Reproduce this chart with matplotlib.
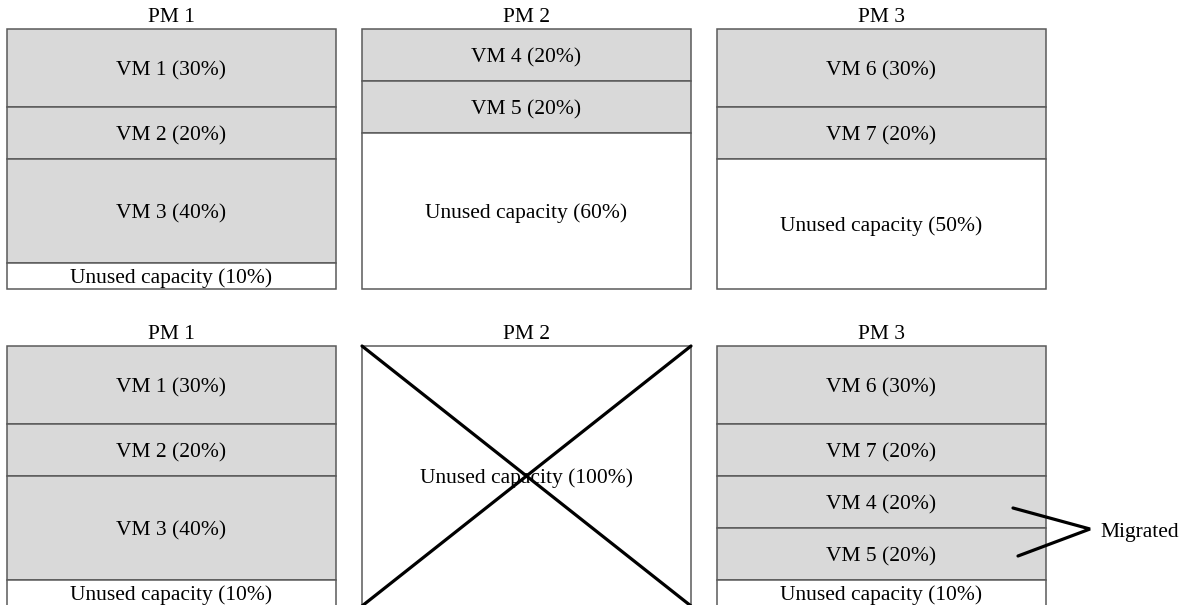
import matplotlib
matplotlib.use("Agg")
import matplotlib.pyplot as plt

plt.rcParams['font.family'] = ['Liberation Serif', 'DejaVu Serif']

# ---- data ----
pm_titles = ["PM 1", "PM 2", "PM 3"]

before_labels = [
    ["VM 1 (30%)", "VM 2 (20%)", "VM 3 (40%)", "Unused capacity (10%)"],
    ["VM 4 (20%)", "VM 5 (20%)", "Unused capacity (60%)"],
    ["VM 6 (30%)", "VM 7 (20%)", "Unused capacity (50%)"],
]
before_values = [
    [30, 20, 40, 10],
    [20, 20, 60],
    [30, 20, 50],
]
before_used = [
    [True, True, True, False],
    [True, True, False],
    [True, True, False],
]

after_labels = [
    ["VM 1 (30%)", "VM 2 (20%)", "VM 3 (40%)", "Unused capacity (10%)"],
    ["Unused capacity (100%)"],
    ["VM 6 (30%)", "VM 7 (20%)", "VM 4 (20%)", "VM 5 (20%)", "Unused capacity (10%)"],
]
after_values = [
    [30, 20, 40, 10],
    [100],
    [30, 20, 20, 20, 10],
]
after_used = [
    [True, True, True, False],
    [False],
    [True, True, True, True, False],
]
removed_pm = 1          # index of the PM switched off after consolidation
migrated_text = "Migrated"

# ---- layout (pixel-like coordinates) ----
W, H = 1188, 605
fig = plt.figure(figsize=(W / 100, H / 100), dpi=100)
ax = fig.add_axes([0, 0, 1, 1])
ax.set_xlim(0, W)
ax.set_ylim(H, 0)
ax.axis("off")

box_left = [7, 362, 717]
box_w = 329
row_top = [29, 346]
scale = 2.6          # pixels per percent
fill_used = "#d9d9d9"
edge = "#5a5a5a"
fs = 15.5
dy = 2.5             # optical vertical centring offset for text


def draw_row(top, labels, values, used, cross=None):
    for i in range(3):
        cx = box_left[i] + box_w / 2
        ax.text(cx, top - 14 + dy, pm_titles[i], ha="center", va="center", fontsize=fs)
        y = top
        for lab, v, u in zip(labels[i], values[i], used[i]):
            h = v * scale
            ax.bar(cx, h, bottom=y, width=box_w,
                   color=fill_used if u else "white",
                   edgecolor=edge, linewidth=1.1)
            ax.text(cx, y + h / 2 + dy, lab, ha="center", va="center", fontsize=fs)
            y += h
        if cross == i:
            x0, x1 = box_left[i], box_left[i] + box_w
            ax.plot([x0, x1], [top, y], color="black", lw=2.3, solid_capstyle="round")
            ax.plot([x1, x0], [top, y], color="black", lw=2.3, solid_capstyle="round")


draw_row(row_top[0], before_labels, before_values, before_used)
draw_row(row_top[1], after_labels, after_values, after_used, cross=removed_pm)

# migrated bracket
ax.plot([1013, 1090, 1018], [508, 529, 556], color="black", lw=2.3,
        solid_joinstyle="miter", solid_capstyle="round", clip_on=False)
ax.text(1100, 530 + dy, migrated_text, ha="left", va="center", fontsize=fs)

fig.savefig("out.png", dpi=100)
